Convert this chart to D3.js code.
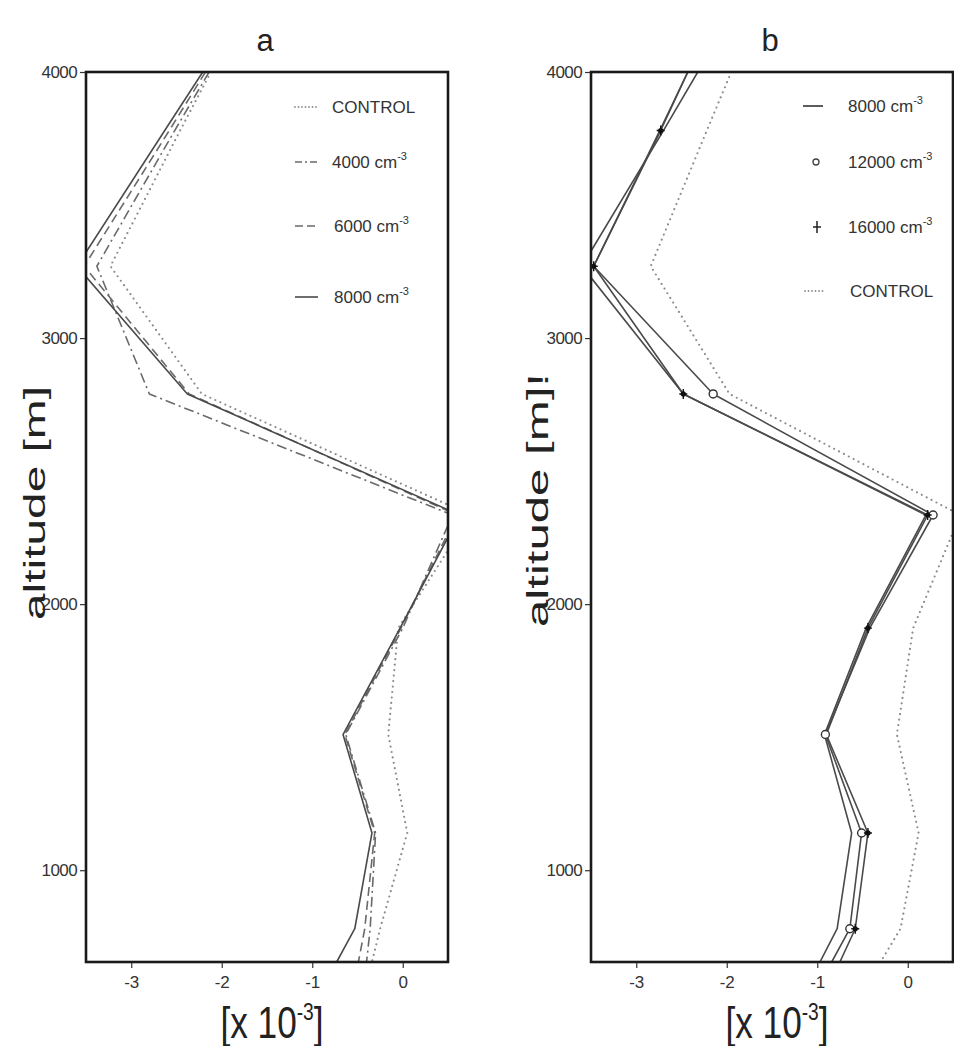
<!DOCTYPE html>
<html><head><meta charset="utf-8">
<script src="https://cdn.jsdelivr.net/npm/d3@7"></script>
<style>
html,body{margin:0;padding:0;background:#fff;}
svg{display:block;font-family:"Liberation Sans",Arial,Helvetica,sans-serif;}
</style></head>
<body>
<svg id="chart" width="954" height="1046"></svg>
<script>
// ---- data ----
const altitudes = [4000, 3780, 3270, 2790, 2335, 1910, 1510, 1140, 780, 655];
// panel a
const aControl = [-2.12, -2.46, -3.23, -2.22, 0.75, -0.05, -0.16, 0.05, -0.25, -0.34];
const a4000    = [-2.14, -2.52, -3.38, -2.80, 0.55, 0.00, -0.63, -0.30, -0.36, -0.40];
const a6000    = [-2.18, -2.58, -3.52, -2.36, 0.60, -0.02, -0.64, -0.31, -0.42, -0.49];
const a8000    = [-2.21, -2.63, -3.60, -2.38, 0.63, -0.03, -0.66, -0.34, -0.53, -0.73];
// panel b
const bControl = [-1.95, -2.22, -2.84, -1.97, 0.58, 0.06, -0.12, 0.12, -0.08, -0.30];
const b8000    = [-2.32, -2.70, -3.60, -2.48, 0.20, -0.46, -0.92, -0.62, -0.78, -0.97];
const b12000   = [-2.43, -2.74, -3.47, -2.15, 0.28, -0.42, -0.91, -0.51, -0.64, -0.84];
const b16000   = [-2.43, -2.73, -3.47, -2.48, 0.22, -0.44, -0.90, -0.44, -0.58, -0.75];
const b12000Markers = [3, 4, 6, 7, 8];
const b16000Markers = [1, 2, 3, 4, 5, 7, 8];
// axes / labels
const xTicks = [-3, -2, -1, 0];
const yTicks = [1000, 2000, 3000, 4000];
const xDomain = [-3.5, 0.5];
const yDomain = [655, 4000];
const panelTitles = ["a", "b"];
const yTitles = ["altitude [m]", "altitude [m]!"];
const legendA = [["CONTROL", ""], ["4000 cm", "-3"], ["6000 cm", "-3"], ["8000 cm", "-3"]];
const legendB = [["8000 cm", "-3"], ["12000 cm", "-3"], ["16000 cm", "-3"], ["CONTROL", ""]];

// ---- drawing ----
const svg = d3.select("#chart");
const plotTop = 72, plotBottom = 962;
const panels = [
  {left: 86, right: 448, title: panelTitles[0], ytitle: yTitles[0], ytx: 45, yty: 503, ylen: 234},
  {left: 591, right: 953, title: panelTitles[1], ytitle: yTitles[1], ytx: 548, yty: 500, ylen: 254}
];
const styles = {
  control: {stroke: "#8c8c8c", width: 2.2, dash: "0,5.5", cap: "round"},
  d4000:   {stroke: "#6a6a6a", width: 1.6, dash: "10,4,2,4", cap: "butt"},
  d6000:   {stroke: "#6a6a6a", width: 1.6, dash: "9,5", cap: "butt"},
  solid:   {stroke: "#4a4a4a", width: 1.6, dash: null, cap: "butt"}
};

panels.forEach((p, i) => {
  const x = d3.scaleLinear().domain(xDomain).range([p.left, p.right]);
  const y = d3.scaleLinear().domain(yDomain).range([plotBottom, plotTop]);
  const g = svg.append("g");
  const clipId = "clip" + i;
  svg.append("clipPath").attr("id", clipId).append("rect")
    .attr("x", p.left).attr("y", plotTop).attr("width", p.right - p.left).attr("height", plotBottom - plotTop);

  const line = d3.line().x(d => x(d[0])).y(d => y(d[1]));
  const lg = g.append("g").attr("clip-path", `url(#${clipId})`);
  function drawSeries(vals, st) {
    const pts = vals.map((v, k) => [v, altitudes[k]]);
    const path = lg.append("path").datum(pts).attr("d", line)
      .attr("fill", "none").attr("stroke", st.stroke).attr("stroke-width", st.width)
      .attr("stroke-linecap", st.cap).attr("stroke-linejoin", "round");
    if (st.dash) path.attr("stroke-dasharray", st.dash);
    return pts;
  }
  if (i === 0) {
    drawSeries(aControl, styles.control);
    drawSeries(a4000, styles.d4000);
    drawSeries(a6000, styles.d6000);
    drawSeries(a8000, styles.solid);
  } else {
    drawSeries(bControl, styles.control);
    drawSeries(b8000, styles.solid);
    const p12 = drawSeries(b12000, styles.solid);
    const p16 = drawSeries(b16000, styles.solid);
    lg.selectAll(".m12").data(b12000Markers.map(k => p12[k])).join("circle")
      .attr("cx", d => x(d[0])).attr("cy", d => y(d[1])).attr("r", 4)
      .attr("fill", "#fff").attr("stroke", "#333").attr("stroke-width", 1.4);
    const plus = lg.selectAll(".m16").data(b16000Markers.map(k => p16[k])).join("g")
      .attr("transform", d => `translate(${x(d[0])},${y(d[1])})`);
    plus.append("circle").attr("r", 2.6).attr("fill", "#111");
    plus.append("path").attr("d", "M-4,0H4M0,-5V5").attr("stroke", "#111").attr("stroke-width", 1.4);
  }

  // frame
  g.append("rect").attr("x", p.left).attr("y", plotTop).attr("width", p.right - p.left).attr("height", plotBottom - plotTop)
    .attr("fill", "none").attr("stroke", "#1a1a1a").attr("stroke-width", 2.6);

  // axes
  const yAxis = d3.axisLeft(y).tickValues(yTicks).tickSize(5).tickPadding(3).tickFormat(d => String(d));
  const ya = g.append("g").attr("transform", `translate(${p.left - 1},0)`).call(yAxis);
  ya.select(".domain").remove();
  ya.selectAll("line").attr("stroke", "#333").attr("stroke-width", 1.2);
  ya.selectAll("text").attr("font-size", 17).attr("fill", "#333")
    .attr("font-family", "'Liberation Sans',Arial,sans-serif").attr("letter-spacing", "-0.6");

  const xAxis = d3.axisBottom(x).tickValues(xTicks).tickSize(5).tickPadding(8).tickFormat(d => String(d));
  const xa = g.append("g").attr("transform", `translate(0,${plotBottom + 1})`).call(xAxis);
  xa.select(".domain").remove();
  xa.selectAll("line").attr("stroke", "#333").attr("stroke-width", 1.2);
  xa.selectAll("text").attr("font-size", 17).attr("fill", "#333")
    .attr("font-family", "'Liberation Sans',Arial,sans-serif");

  // panel title
  g.append("text").attr("x", (p.left + p.right) / 2 - 2).attr("y", 51).attr("text-anchor", "middle")
    .attr("font-size", 31).attr("fill", "#222").text(p.title);

  // x title
  const xt = g.append("text").attr("text-anchor", "middle").attr("fill", "#222")
    .attr("transform", `translate(${(p.left + p.right) / 2 + 5},1038) scale(0.8,1)`)
    .attr("font-size", 44);
  xt.append("tspan").text("[x 10");
  xt.append("tspan").attr("font-size", 24).attr("dy", -18).text("-3");
  xt.append("tspan").attr("dy", 18).text("]");

  // y title
  g.append("text").attr("text-anchor", "middle").attr("fill", "#222")
    .attr("transform", `translate(${p.ytx},${p.yty}) rotate(-90)`)
    .attr("font-size", 30).attr("textLength", p.ylen).attr("lengthAdjust", "spacingAndGlyphs")
    .text(p.ytitle);
});

// legends
function legendText(gx, xpos, ypos, item) {
  const t = gx.append("text").attr("x", xpos).attr("y", ypos).attr("font-size", 17).attr("fill", "#333");
  t.append("tspan").text(item[0]);
  if (item[1]) t.append("tspan").attr("font-size", 11).attr("dy", -8).text(item[1]);
}
const la = svg.append("g");
const laY = [113, 168, 232, 303];
const laStyles = [styles.control, styles.d4000, styles.d6000, styles.solid];
legendA.forEach((item, k) => {
  const st = laStyles[k];
  const l = la.append("line").attr("x1", 295).attr("x2", 318).attr("y1", laY[k] - 6).attr("y2", laY[k] - 6)
    .attr("stroke", st.stroke).attr("stroke-width", st.width).attr("stroke-linecap", st.cap);
  if (k === 0) l.attr("stroke-dasharray", "0,3.5").attr("stroke-width", 1.8);
  else if (k === 1) l.attr("stroke-dasharray", "7,3,2,3");
  else if (k === 2) l.attr("stroke-dasharray", "8,4");
  legendText(la, k === 0 || k === 1 ? 332 : 334, laY[k], item);
});
const lb = svg.append("g");
const lbY = [112, 168, 233, 297];
legendB.forEach((item, k) => {
  const cy = lbY[k] - 6;
  if (k === 0) lb.append("line").attr("x1", 803).attr("x2", 823).attr("y1", cy).attr("y2", cy)
    .attr("stroke", "#4a4a4a").attr("stroke-width", 1.8);
  if (k === 1) lb.append("circle").attr("cx", 816).attr("cy", cy).attr("r", 3)
    .attr("fill", "#fff").attr("stroke", "#444").attr("stroke-width", 1.3);
  if (k === 2) lb.append("path").attr("d", `M813,${cy}H821M817,${cy - 6}V${cy + 6}`)
    .attr("stroke", "#222").attr("stroke-width", 1.5);
  if (k === 3) lb.append("line").attr("x1", 805).attr("x2", 823).attr("y1", cy).attr("y2", cy)
    .attr("stroke", "#8c8c8c").attr("stroke-width", 1.8).attr("stroke-dasharray", "0,3.5").attr("stroke-linecap", "round");
  legendText(lb, k === 3 ? 850 : 848, lbY[k], item);
});
</script>
</body></html>
